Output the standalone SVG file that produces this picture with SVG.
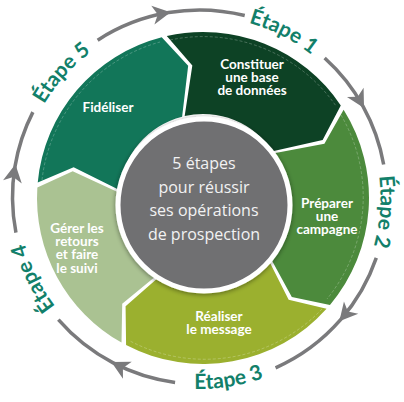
<svg xmlns="http://www.w3.org/2000/svg" width="404" height="402" viewBox="0 0 404 402">
<defs>
<style>
.arc{fill:none;stroke:#7a7a7c;stroke-width:3.5;marker-mid:url(#ah)}
.et{font-family:Lato,"Open Sans",sans-serif;font-weight:700;font-size:21px;fill:#12806a}
.lb{font-family:Lato,"Open Sans",sans-serif;font-weight:700;font-size:13.5px;fill:#ffffff;text-anchor:middle}
.ct{font-family:"Open Sans",Lato,sans-serif;font-size:16px;fill:#f2f2f2;text-anchor:middle}
.seg{stroke:none}
.st{fill:none;stroke:#ffffff;stroke-opacity:0.3;stroke-width:0.8;stroke-dasharray:3 2}
</style>
<marker id="ah" markerUnits="userSpaceOnUse" markerWidth="30" markerHeight="30" viewBox="-20 -15 30 30" refX="0" refY="0" orient="auto">
<path d="M2,0 L-16,-9.5 L-11,0 L-16,9.5 Z" fill="#7a7a7c"/>
</marker>
<filter id="sh" x="-20%" y="-20%" width="140%" height="140%">
<feGaussianBlur in="SourceAlpha" stdDeviation="2.5"/>
<feOffset dx="0" dy="1" result="b"/>
<feComponentTransfer><feFuncA type="linear" slope="0.45"/></feComponentTransfer>
<feMerge><feMergeNode/><feMergeNode in="SourceGraphic"/></feMerge>
</filter>
<path id="t1" d="M190.03,16.25 A181,181 0 0 1 351.3,98.42"/>
<path id="t2" d="M362.87,119.08 A181,181 0 0 1 348.66,299.52"/>
<path id="t3" d="M130.69,376.25 A192,192 0 0 0 320.33,346.2"/>
<path id="t4" d="M98.29,347.05 A181,181 0 0 1 18.94,184.37"/>
<path id="t5" d="M22.46,159.37 A181,181 0 0 1 143.57,24.85"/>
</defs>
<rect width="404" height="402" fill="#ffffff"/>
<g id="connectors">
<path class="arc" d="M97.66,40.16 A187,187 0 0 1 168.64,12.56 A187,187 0 0 1 244.74,15.55"/>
<path class="arc" d="M324.63,58.04 A187,187 0 0 1 363.05,106.34 A187,187 0 0 1 383.66,164.53"/>
<path class="arc" d="M376.31,257.88 A187,187 0 0 1 340.63,319.69 A187,187 0 0 1 275.56,367.83"/>
<path class="arc" d="M175.09,382.4 A187,187 0 0 1 113.16,362.87 A187,187 0 0 1 58.37,319.69"/>
<path class="arc" d="M15.94,232.68 A187,187 0 0 1 15.06,166.14 A187,187 0 0 1 32.88,112.1"/>
</g>
<g id="step1">
<path class="seg" fill="#0d4225" d="M166.79,36 A166,166 0 0 1 340.78,105.42 L322.65,139.91 L272.72,151.15 A84,84 0 0 0 184.68,116.02 L192.33,65.43 Z"/>
<path class="st" d="M170,40 A162,162 0 0 1 336,106"/>
<text class="lb" x="252" y="69">Constituer</text>
<text class="lb" x="252" y="82">une base</text>
<text class="lb" x="252" y="95">de données</text>
<text class="et"><textPath href="#t1" startOffset="50%" text-anchor="middle">Étape 1</textPath></text>
</g>
<g id="step2">
<path class="seg" fill="#4c8a3c" d="M343.62,109.79 A166,166 0 0 1 329.97,304.92 L291.82,296.99 L267.25,252.1 A84,84 0 0 0 274.16,153.36 L324.4,143.7 Z"/>
<path class="st" d="M341,115 A162,162 0 0 1 327,299"/>
<text class="lb" x="327" y="208">Préparer</text>
<text class="lb" x="327" y="221">une</text>
<text class="lb" x="327" y="234">campagne</text>
<text class="et"><textPath href="#t2" startOffset="50%" text-anchor="middle">Étape 2</textPath></text>
</g>
<g id="step3">
<path class="seg" fill="#9bb02f" d="M326.55,308.85 A166,166 0 0 1 126.09,345.11 L125.58,306.14 L164.08,272.44 A84,84 0 0 0 265.52,254.1 L288.67,299.73 Z"/>
<path class="st" d="M322,309 A162,162 0 0 1 130,341"/>
<text class="lb" x="219" y="321">Réaliser</text>
<text class="lb" x="219" y="334">le message</text>
<text class="et"><textPath href="#t3" startOffset="50%" text-anchor="middle">Étape 3</textPath></text>
</g>
<g id="step4">
<path class="seg" fill="#aac292" d="M121.51,342.62 A166,166 0 0 1 37.33,187.58 L72.71,171.25 L119.17,192.72 A84,84 0 0 0 161.76,271.18 L122.22,303.66 Z"/>
<text class="lb" x="77" y="233">Gérer les</text>
<text class="lb" x="77" y="246">retours</text>
<text class="lb" x="77" y="259">et faire</text>
<text class="lb" x="77" y="272.5">le suivi</text>
<text class="et"><textPath href="#t4" startOffset="50%" text-anchor="middle">Étape 4</textPath></text>
</g>
<g id="step5">
<path class="seg" fill="#127659" d="M37.73,182.38 A166,166 0 0 1 161.72,37.21 L188.17,65.82 L182.11,116.64 A84,84 0 0 0 119.37,190.1 L73.62,167.18 Z"/>
<path class="st" d="M42,180 A162,162 0 0 1 160,42"/>
<text class="lb" x="108" y="112">Fidéliser</text>
<text class="et"><textPath href="#t5" startOffset="50%" text-anchor="middle">Étape 5</textPath></text>
</g>
<g id="center">
<circle cx="204" cy="205" r="86" fill="#706f72" stroke="#ffffff" stroke-width="5" filter="url(#sh)"/>
<text class="ct" x="204" y="169">5 étapes</text>
<text class="ct" x="204" y="193">pour réussir</text>
<text class="ct" x="204" y="216">ses opérations</text>
<text class="ct" x="204" y="240">de prospection</text>
</g>
</svg>
